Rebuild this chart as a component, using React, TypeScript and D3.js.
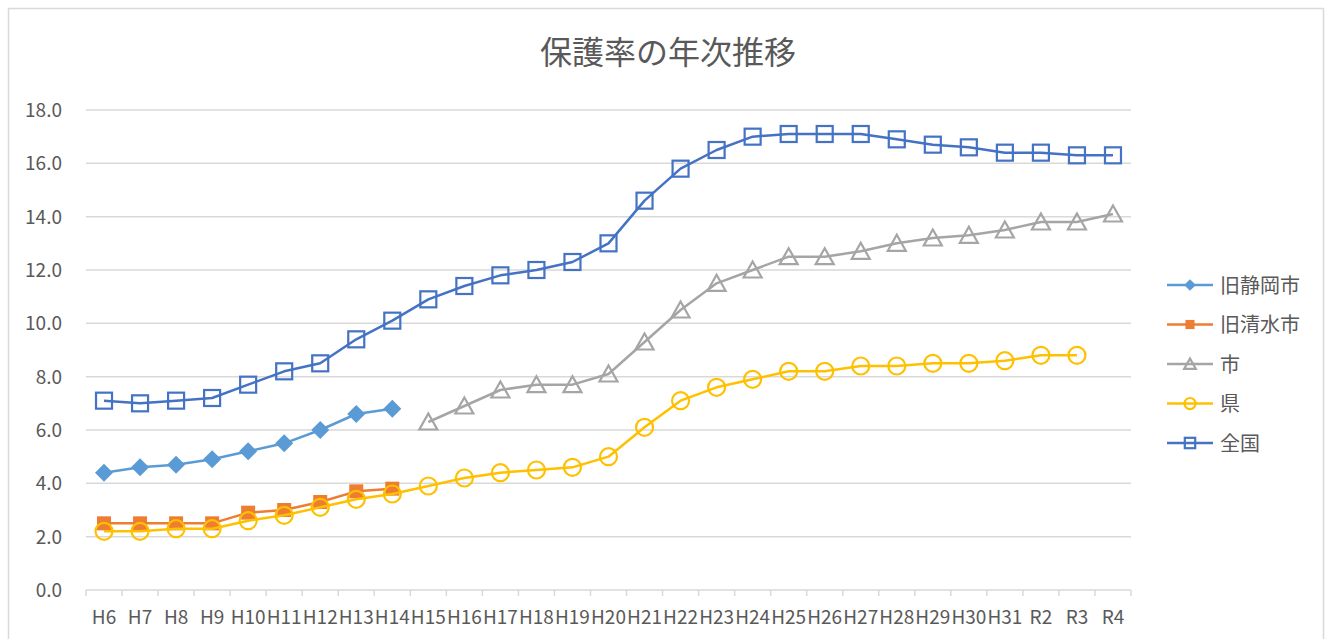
import * as d3 from "d3";

const categories = [
  "H6", "H7", "H8", "H9", "H10", "H11", "H12", "H13", "H14", "H15",
  "H16", "H17", "H18", "H19", "H20", "H21", "H22", "H23", "H24", "H25",
  "H26", "H27", "H28", "H29", "H30", "H31", "R2", "R3", "R4",
];

const oldShizuoka = [4.4, 4.6, 4.7, 4.9, 5.2, 5.5, 6.0, 6.6, 6.8,
  null, null, null, null, null, null, null, null, null, null, null,
  null, null, null, null, null, null, null, null, null];

const oldShimizu = [2.5, 2.5, 2.5, 2.5, 2.9, 3.0, 3.3, 3.7, 3.8,
  null, null, null, null, null, null, null, null, null, null, null,
  null, null, null, null, null, null, null, null, null];

const city = [null, null, null, null, null, null, null, null, null,
  6.3, 6.9, 7.5, 7.7, 7.7, 8.1, 9.3, 10.5, 11.5, 12.0, 12.5,
  12.5, 12.7, 13.0, 13.2, 13.3, 13.5, 13.8, 13.8, 14.1];

const prefecture = [2.2, 2.2, 2.3, 2.3, 2.6, 2.8, 3.1, 3.4, 3.6,
  3.9, 4.2, 4.4, 4.5, 4.6, 5.0, 6.1, 7.1, 7.6, 7.9, 8.2,
  8.2, 8.4, 8.4, 8.5, 8.5, 8.6, 8.8, 8.8, null];

const national = [7.1, 7.0, 7.1, 7.2, 7.7, 8.2, 8.5, 9.4, 10.1,
  10.9, 11.4, 11.8, 12.0, 12.3, 13.0, 14.6, 15.8, 16.5, 17.0, 17.1,
  17.1, 17.1, 16.9, 16.7, 16.6, 16.4, 16.4, 16.3, 16.3];

const yTicks = [0, 2, 4, 6, 8, 10, 12, 14, 16, 18];

type Marker = "diamond" | "square" | "triangle" | "circle" | "openSquare";

const series: { name: string; values: (number | null)[]; color: string; marker: Marker }[] = [
  { name: "旧静岡市", values: oldShizuoka, color: "#5b9bd5", marker: "diamond" },
  { name: "旧清水市", values: oldShimizu, color: "#ed7d31", marker: "square" },
  { name: "市", values: city, color: "#a5a5a5", marker: "triangle" },
  { name: "県", values: prefecture, color: "#ffc000", marker: "circle" },
  { name: "全国", values: national, color: "#4472c4", marker: "openSquare" },
];

const W = 1331;
const H = 639;
const FONT = "'Noto Sans CJK JP', 'Noto Sans', sans-serif";
const TEXT = "#595959";
const GRID = "#d9d9d9";

function MarkerShape({ type, color, cx, cy, s = 1 }: { type: Marker; color: string; cx: number; cy: number; s?: number }) {
  if (type === "diamond") {
    const r = 9 * s;
    return <path d={`M${cx},${cy - r}L${cx + r},${cy}L${cx},${cy + r}L${cx - r},${cy}Z`} fill={color} />;
  }
  if (type === "square") {
    const r = 7 * s;
    return <rect x={cx - r} y={cy - r} width={2 * r} height={2 * r} fill={color} />;
  }
  if (type === "openSquare") {
    const r = 8 * s;
    return <rect x={cx - r} y={cy - r} width={2 * r} height={2 * r} fill="none" stroke={color} strokeWidth={2.2} />;
  }
  if (type === "triangle") {
    const w = 9 * s;
    return (
      <path
        d={`M${cx},${cy - 8.5 * s}L${cx + w},${cy + 7.5 * s}L${cx - w},${cy + 7.5 * s}Z`}
        fill="none"
        stroke={color}
        strokeWidth={2.2}
        strokeLinejoin="miter"
      />
    );
  }
  return <circle cx={cx} cy={cy} r={8.5 * s} fill="none" stroke={color} strokeWidth={2.2} />;
}

export default function App() {
  const x = d3.scaleBand<string>().domain(categories).range([86, 1131]).padding(0);
  const y = d3.scaleLinear().domain([0, 18]).range([590, 110]);
  const cx = (c: string) => x(c)! + x.bandwidth() / 2;

  const line = d3
    .line<number | null>()
    .defined((d) => d !== null)
    .x((_, i) => cx(categories[i]))
    .y((d) => y(d as number));

  const legendY = d3.scalePoint<string>().domain(series.map((s) => s.name)).range([285, 443]);

  return (
    <svg
      width={W}
      height={H}
      style={{ position: "absolute", left: 0, top: 0, display: "block", background: "#fff" }}
      fontFamily={FONT}
    >
      <rect x={8.5} y={8.5} width={1315} height={H} fill="#fff" stroke={GRID} strokeWidth={1.5} />

      <text x={668} y={64} textAnchor="middle" fontSize={32} fill={TEXT}>
        保護率の年次推移
      </text>

      {/* grid + y labels */}
      {yTicks.map((t) => (
        <g key={t}>
          {t > 0 && <line x1={86} x2={1131} y1={y(t)} y2={y(t)} stroke={GRID} strokeWidth={1.5} />}
          <text x={62} y={y(t) + 7} textAnchor="end" fontSize={19} fill={TEXT}>
            {t.toFixed(1)}
          </text>
        </g>
      ))}

      {/* x axis */}
      <line x1={86} x2={1131} y1={590} y2={590} stroke={GRID} strokeWidth={1.5} />
      {categories.map((c) => (
        <line key={"t" + c} x1={x(c)!} x2={x(c)!} y1={590} y2={596} stroke={GRID} strokeWidth={1.5} />
      ))}
      <line x1={1131} x2={1131} y1={590} y2={596} stroke={GRID} strokeWidth={1.5} />
      {categories.map((c) => (
        <text key={c} x={cx(c)} y={624} textAnchor="middle" fontSize={19} fill={TEXT}>
          {c}
        </text>
      ))}

      {/* series */}
      {series.map((s) => (
        <g key={s.name}>
          <path d={line(s.values) ?? ""} fill="none" stroke={s.color} strokeWidth={2.5} strokeLinejoin="round" />
          {s.values.map((v, i) =>
            v === null ? null : (
              <MarkerShape key={i} type={s.marker} color={s.color} cx={cx(categories[i])} cy={y(v)} />
            )
          )}
        </g>
      ))}

      {/* legend */}
      {series.map((s) => {
        const ly = legendY(s.name)!;
        return (
          <g key={"l" + s.name}>
            <line x1={1167} x2={1213} y1={ly} y2={ly} stroke={s.color} strokeWidth={2.5} />
            <MarkerShape type={s.marker} color={s.color} cx={1190} cy={ly} s={0.65} />
            <text x={1220} y={ly + 7.5} fontSize={20} fill={TEXT}>
              {s.name}
            </text>
          </g>
        );
      })}
    </svg>
  );
}
